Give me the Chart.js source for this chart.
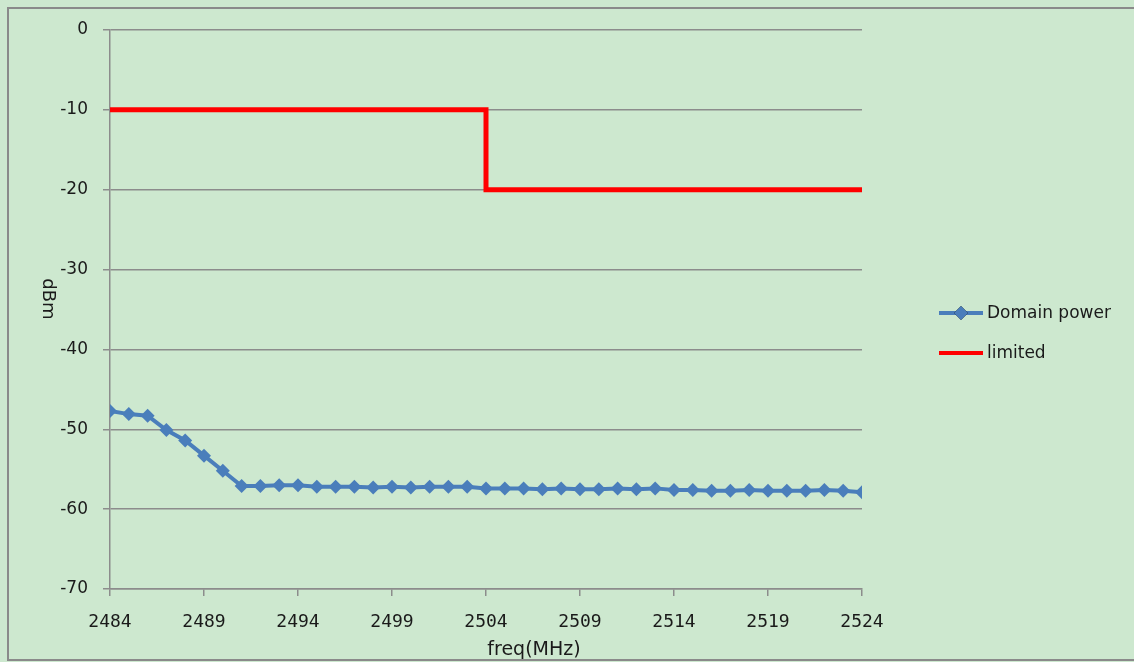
<!DOCTYPE html>
<html>
<head>
<meta charset="utf-8">
<title>Domain power</title>
<script src="https://cdn.jsdelivr.net/npm/chart.js@4.4.1/dist/chart.umd.min.js"></script>
<style>
    html, body { margin: 0; padding: 0; background: #cde8cf; }
    #wrap { width: 1134px; height: 662px; }
</style>
</head>
<body>
<div id="wrap"><canvas id="powerChart" width="1134" height="662"></canvas></div>
<script>
// measured spectrum, one point per MHz
const freqs = [2484, 2485, 2486, 2487, 2488, 2489, 2490, 2491, 2492, 2493, 2494,
    2495, 2496, 2497, 2498, 2499, 2500, 2501, 2502, 2503, 2504,
    2505, 2506, 2507, 2508, 2509, 2510, 2511, 2512, 2513, 2514,
    2515, 2516, 2517, 2518, 2519, 2520, 2521, 2522, 2523, 2524];
const domainPower = [-47.7, -48.1, -48.3, -50.1, -51.4, -53.3, -55.2, -57.1, -57.1, -57.0, -57.0,
    -57.2, -57.2, -57.2, -57.3, -57.2, -57.3, -57.2, -57.2, -57.2, -57.4,
    -57.4, -57.4, -57.5, -57.4, -57.5, -57.5, -57.4, -57.5, -57.4, -57.6,
    -57.6, -57.7, -57.7, -57.6, -57.7, -57.7, -57.7, -57.6, -57.7, -57.9];

// limit mask (step at 2504 MHz)
const limitFreqs = [2484, 2504, 2504, 2524];
const limitLevels = [-10, -10, -20, -20];

const xTicks = [2484, 2489, 2494, 2499, 2504, 2509, 2514, 2519, 2524];
const yRange = [-70, 0];

const GRID = '#8c8c8c';
const BLUE = '#4a7ebb';
const RED = '#ff0000';

let PowerChart = {

    setup: function () {
        this.chart = new Chart(document.getElementById('powerChart'), {
            type: 'line',
            data: {
                datasets: [{
                    label: 'Domain power',
                    data: freqs.map(function (f, i) { return {x: f, y: domainPower[i]}; }),
                    borderColor: BLUE,
                    backgroundColor: BLUE,
                    borderWidth: 4,
                    pointStyle: 'rectRot',
                    pointRadius: 7,
                    pointBorderWidth: 0,
                    pointBackgroundColor: BLUE,
                    tension: 0
                }, {
                    label: 'limited',
                    data: limitFreqs.map(function (f, i) { return {x: f, y: limitLevels[i]}; }),
                    borderColor: RED,
                    backgroundColor: RED,
                    borderWidth: 5,
                    pointRadius: 0,
                    tension: 0
                }]
            },
            options: {
                responsive: false,
                animation: false,
                devicePixelRatio: 1,
                layout: {padding: {top: 30, right: 272, left: 0, bottom: 0}},
                plugins: {
                    legend: {display: false},
                    tooltip: {enabled: false}
                },
                scales: {
                    x: {
                        type: 'linear',
                        min: xTicks[0],
                        max: xTicks[xTicks.length - 1],
                        afterBuildTicks: function (scale) {
                            scale.ticks = xTicks.map(function (v) { return {value: v}; });
                        },
                        afterFit: function (scale) { scale.height = 73; },
                        grid: {drawOnChartArea: false, drawTicks: true, tickLength: 7, color: GRID, lineWidth: 1.5},
                        border: {color: GRID, width: 1.5},
                        ticks: {
                            autoSkip: false, maxRotation: 0, padding: 16, color: '#1a1a1a',
                            font: {family: 'DejaVu Sans Mono', size: 18},
                            callback: function (v) { return String(v); }
                        }
                    },
                    y: {
                        min: yRange[0],
                        max: yRange[1],
                        afterFit: function (scale) { scale.width = 110; },
                        grid: {color: GRID, lineWidth: 1.5, tickLength: 7},
                        border: {color: GRID, width: 1.5},
                        ticks: {
                            stepSize: 10, padding: 15, color: '#1a1a1a',
                            font: {family: 'DejaVu Sans', size: 17}
                        }
                    }
                }
            },
            plugins: [this.frame, this.titles, this.legendBox]
        });
    },

    // green panel with grey frame
    frame: {
        id: 'frame',
        beforeDraw: function (chart) {
            const ctx = chart.ctx;
            ctx.save();
            ctx.fillStyle = '#cde8cf';
            ctx.fillRect(0, 0, chart.width, chart.height);
            ctx.strokeStyle = '#8a8a8a';
            ctx.lineWidth = 2;
            ctx.strokeRect(8, 8, chart.width + 10, 652);
            ctx.restore();
        }
    },

    titles: {
        id: 'titles',
        afterDraw: function (chart) {
            const ctx = chart.ctx;
            ctx.save();
            ctx.fillStyle = '#1a1a1a';
            ctx.textAlign = 'center';
            ctx.textBaseline = 'middle';
            ctx.font = '19px "DejaVu Sans"';
            ctx.fillText('freq(MHz)', 534, 650);

            ctx.translate(48, 299);
            ctx.rotate(Math.PI / 2);
            ctx.font = '18px "DejaVu Sans"';
            ctx.fillText('dBm', 0, 0);
            ctx.restore();
        }
    },

    legendBox: {
        id: 'legendBox',
        afterDraw: function (chart) {
            const ctx = chart.ctx;
            const rows = [313, 353];
            ctx.save();
            chart.data.datasets.forEach(function (ds, i) {
                const y = rows[i];
                ctx.strokeStyle = ds.borderColor;
                ctx.lineWidth = 4;
                ctx.beginPath();
                ctx.moveTo(939, y);
                ctx.lineTo(983, y);
                ctx.stroke();
                if (ds.pointRadius > 0) {
                    Chart.helpers.drawPoint(ctx, {pointStyle: ds.pointStyle, radius: ds.pointRadius, borderWidth: 0}, 961, y);
                    ctx.fillStyle = ds.pointBackgroundColor;
                    ctx.fill();
                }
                ctx.fillStyle = '#1a1a1a';
                ctx.font = '17px "DejaVu Sans"';
                ctx.textAlign = 'left';
                ctx.textBaseline = 'middle';
                ctx.fillText(ds.label, 987, y + 1);
            });
            ctx.restore();
        }
    }
};

PowerChart.setup();
</script>
</body>
</html>
